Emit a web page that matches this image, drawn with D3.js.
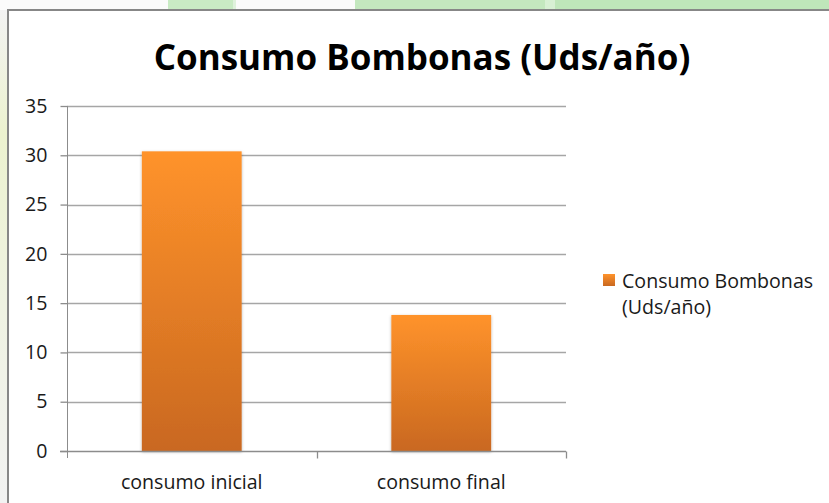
<!DOCTYPE html>
<html>
<head>
<meta charset="utf-8">
<script src="https://cdn.jsdelivr.net/npm/d3@7"></script>
<style>
  html, body { margin: 0; padding: 0; background: #f2f2f2; }
  svg { display: block; }
</style>
</head>
<body>
<svg id="chart" width="829" height="503"></svg>
<script>
var categories = ["consumo inicial", "consumo final"];
var values = [30.4, 13.8];
var yTicks = [0, 5, 10, 15, 20, 25, 30, 35];
var title = "Consumo Bombonas (Uds/año)";
var seriesName = ["Consumo Bombonas", "(Uds/año)"];

var svg = d3.select("#chart");
var font = "'Open Sans', 'Noto Sans', sans-serif";

// page behind the chart (faint green bits along the top and left)
svg.append("rect").attr("x", 0).attr("y", 0).attr("width", 829).attr("height", 503).style("fill", "#f3f3f3");
svg.append("rect").attr("x", 0).attr("y", 0).attr("width", 829).attr("height", 10).style("fill", "#fbfbfb");
var greens = [[168, 66, "#c9ebc4"], [233, 3, "#dff2dc"], [355, 190, "#c4e8bf"], [545, 10, "#d8f0d4"], [555, 274, "#bfe6ba"]];
svg.selectAll("rect.bg").data(greens).enter().append("rect")
  .attr("class", "bg")
  .attr("x", function(d) { return d[0]; }).attr("y", 0)
  .attr("width", function(d) { return d[1]; }).attr("height", 9)
  .style("fill", function(d) { return d[2]; });
var lg = svg.append("defs").append("linearGradient").attr("id", "leftTint")
  .attr("x1", 0).attr("y1", 0).attr("x2", 0).attr("y2", 1);
lg.append("stop").attr("offset", "0%").attr("stop-color", "#f3f3f3");
lg.append("stop").attr("offset", "25%").attr("stop-color", "#ecf2cf");
lg.append("stop").attr("offset", "60%").attr("stop-color", "#eff2e2");
lg.append("stop").attr("offset", "100%").attr("stop-color", "#f2f2f2");
svg.append("rect").attr("x", 0).attr("y", 10).attr("width", 7).attr("height", 493).style("fill", "url(#leftTint)");

// chart area
svg.append("rect").attr("x", 8).attr("y", 10).attr("width", 840).attr("height", 510)
  .style("fill", "#fff").style("stroke", "#878787").style("stroke-width", 2);

// gradients for the bars
var defs = svg.select("defs");
var bg = defs.append("linearGradient").attr("id", "barGrad")
  .attr("x1", 0).attr("y1", 0).attr("x2", 0).attr("y2", 1);
bg.append("stop").attr("offset", "0%").attr("stop-color", "#ff932b");
bg.append("stop").attr("offset", "100%").attr("stop-color", "#c96820");
var f = defs.append("filter").attr("id", "shadow").attr("x", "-10%").attr("y", "-5%").attr("width", "120%").attr("height", "110%");
f.append("feDropShadow").attr("dx", 0).attr("dy", 1).attr("stdDeviation", 1.6)
  .attr("flood-color", "#000").attr("flood-opacity", 0.3);

svg.append("text")
  .attr("x", 422).attr("y", 70)
  .attr("text-anchor", "middle")
  .style("font-family", font).style("font-weight", "bold").style("font-size", "35px")
  .style("fill", "#000")
  .text(title);

var plotLeft = 67, plotRight = 566, plotTop = 106, plotBottom = 451;
var labelSize = "19.6px";

var x = d3.scaleBand().domain(categories).range([plotLeft, plotRight])
  .paddingInner(0.6).paddingOuter(0.3);
var y = d3.scaleLinear().domain([0, 35]).range([plotBottom, plotTop]);

// gridlines
svg.append("g").selectAll("line").data(yTicks.slice(1)).enter().append("line")
  .attr("x1", plotLeft).attr("x2", plotRight)
  .attr("y1", function(d) { return Math.round(y(d)) + 0.5; })
  .attr("y2", function(d) { return Math.round(y(d)) + 0.5; })
  .style("stroke", "#a6a6a6").style("stroke-width", 1.3);

// y axis
var yAxis = svg.append("g").attr("transform", "translate(" + (plotLeft + 0.5) + ",0)")
  .call(d3.axisLeft(y).tickValues(yTicks).tickSize(7).tickPadding(13));
yAxis.select(".domain").style("stroke", "#8c8c8c").attr("d", "M0," + plotTop + "V" + (plotBottom + 7));
yAxis.selectAll(".tick line").style("stroke", "#8c8c8c").style("stroke-width", 1.3);
yAxis.selectAll(".tick text").style("font-family", font).style("font-size", labelSize).style("fill", "#1a1a1a");

// bars
svg.append("g").selectAll("rect").data(values).enter().append("rect")
  .attr("x", function(d, i) { return x(categories[i]); })
  .attr("y", function(d) { return y(d); })
  .attr("width", x.bandwidth())
  .attr("height", function(d) { return plotBottom - y(d); })
  .style("fill", "url(#barGrad)")
  .style("filter", "url(#shadow)");

// x axis
var xAxis = svg.append("g").attr("transform", "translate(0," + (plotBottom + 0.5) + ")");
xAxis.append("line").attr("x1", plotLeft - 7).attr("x2", plotRight).style("stroke", "#8c8c8c").style("stroke-width", 1.3);
var bounds = [plotLeft + x.step(), plotLeft + x.step() * 2];
xAxis.selectAll("line.tk").data(bounds).enter().append("line").attr("class", "tk")
  .attr("x1", function(d) { return Math.round(d) + 0.5; }).attr("x2", function(d) { return Math.round(d) + 0.5; })
  .attr("y1", 0).attr("y2", 7).style("stroke", "#8c8c8c").style("stroke-width", 1.3);
xAxis.selectAll("text").data(categories).enter().append("text")
  .attr("x", function(d) { return x(d) + x.bandwidth() / 2; })
  .attr("y", 37)
  .attr("text-anchor", "middle")
  .style("font-family", font).style("font-size", labelSize).style("fill", "#1a1a1a")
  .text(function(d) { return d; });

// legend
var legend = svg.append("g").attr("transform", "translate(603,274)");
legend.append("rect").attr("width", 12).attr("height", 12).style("fill", "url(#barGrad)");
legend.selectAll("text").data(seriesName).enter().append("text")
  .attr("x", 19).attr("y", function(d, i) { return 14 + i * 26; })
  .style("font-family", font).style("font-size", labelSize).style("fill", "#1a1a1a")
  .text(function(d) { return d; });
</script>
</body>
</html>
